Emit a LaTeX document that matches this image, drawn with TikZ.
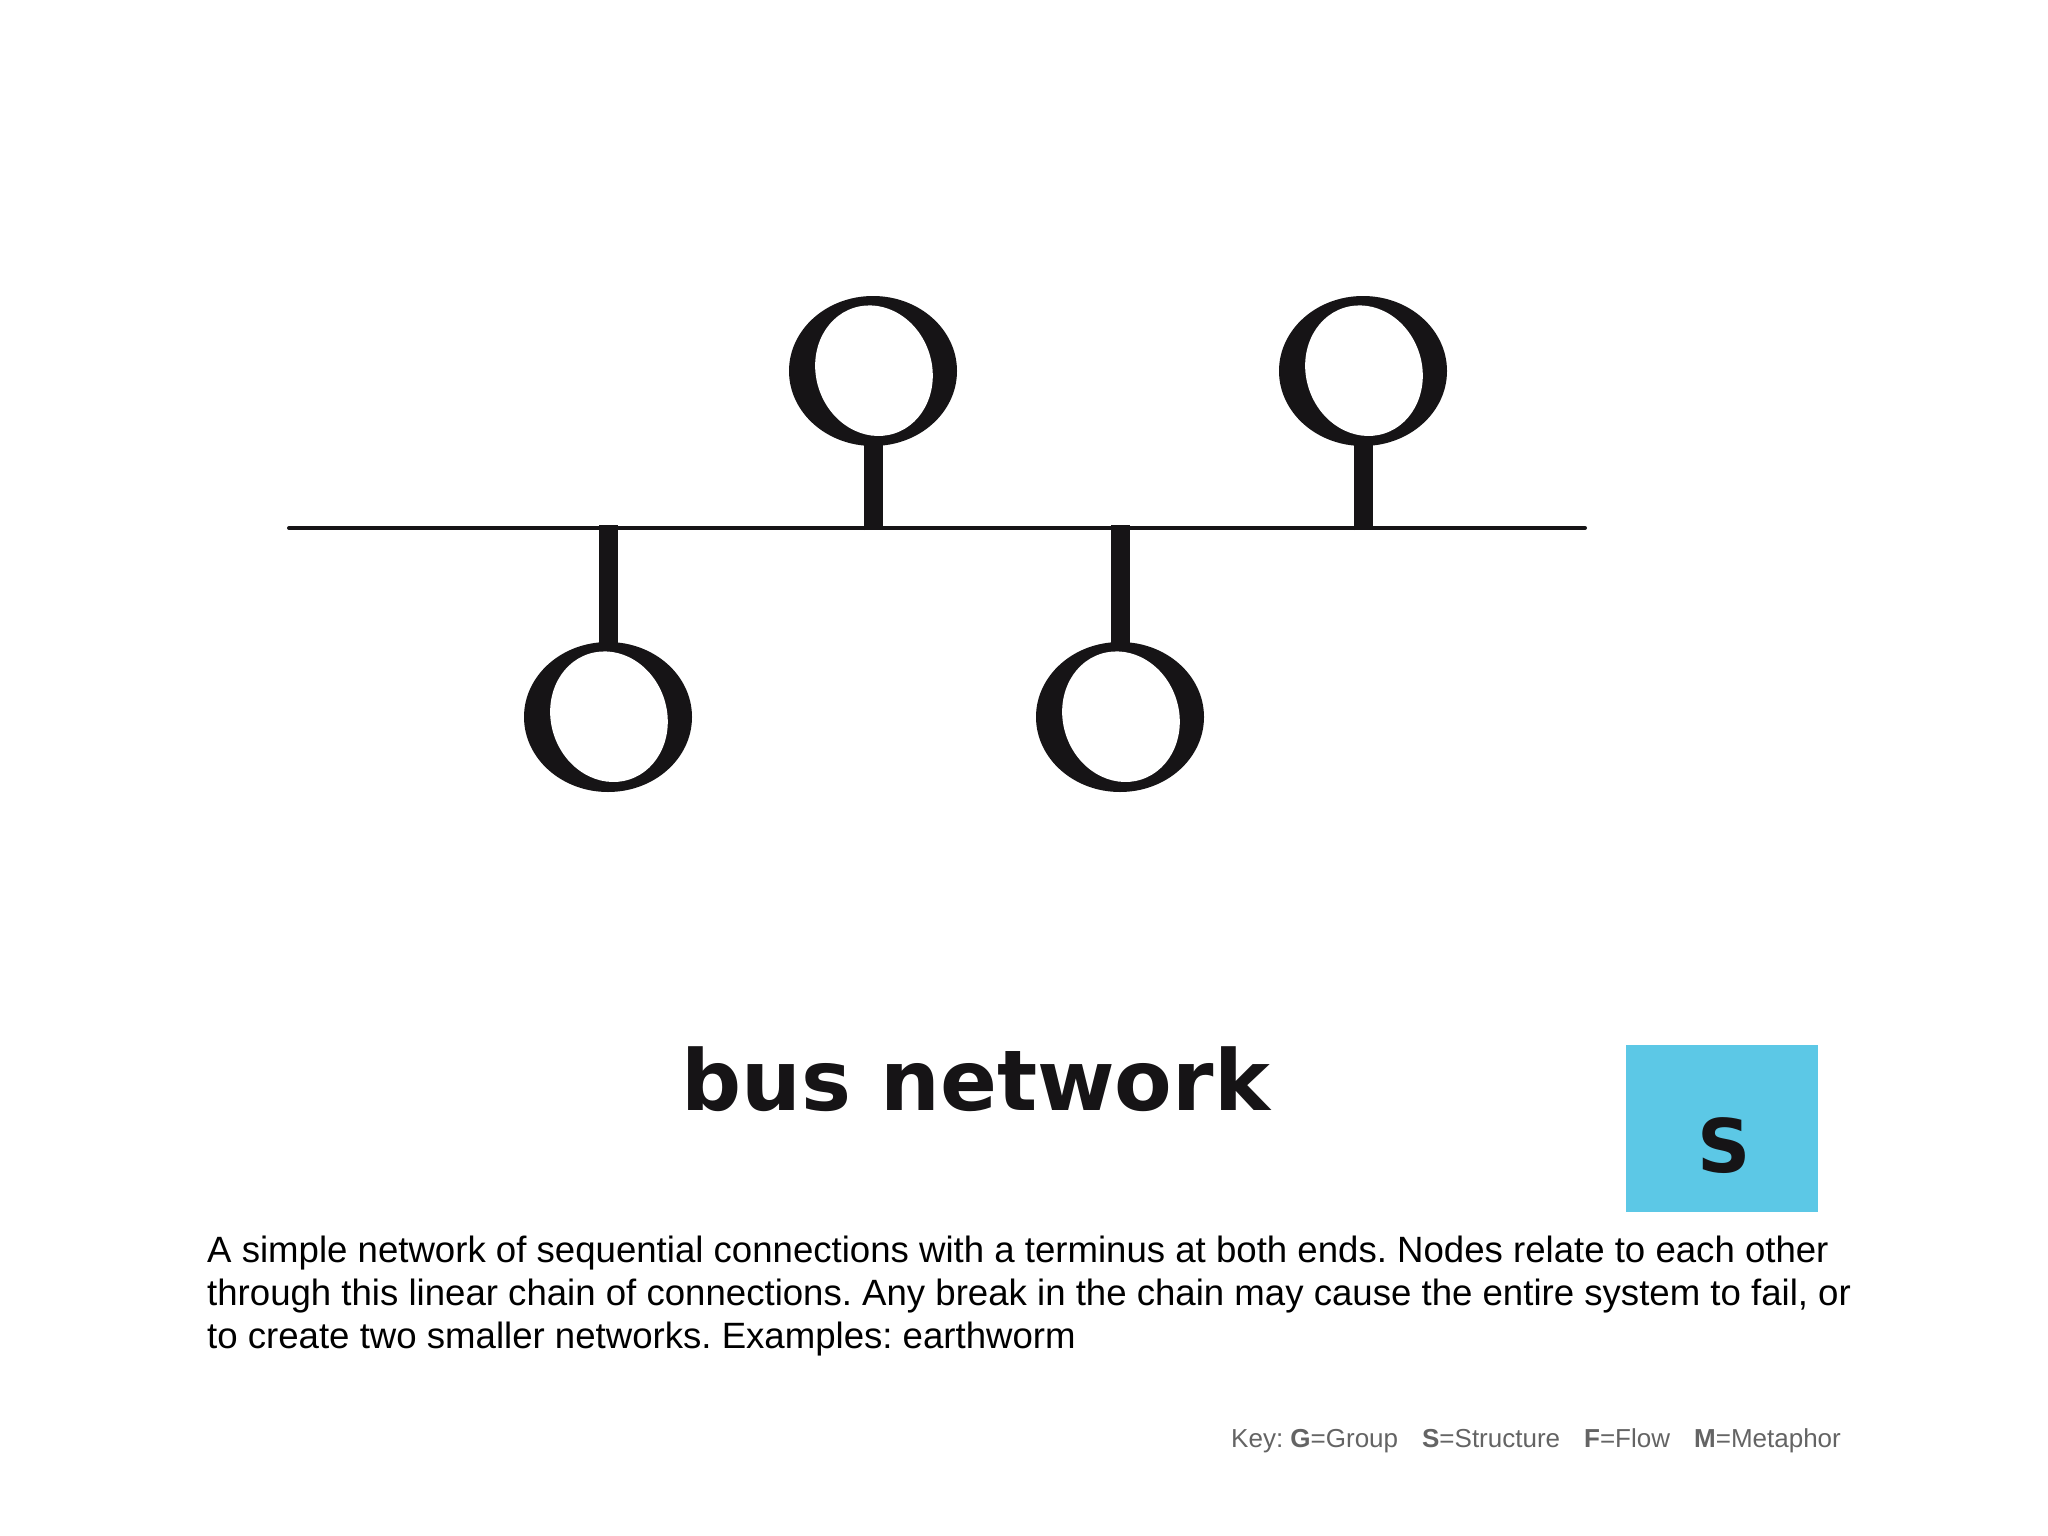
\documentclass[tikz,border=0pt]{standalone}
\usepackage{fontspec}
\setmainfont{Liberation Sans}
\newfontfamily\headfont{DejaVu Sans}
\usetikzlibrary{calc}

\definecolor{inkblack}{RGB}{22,20,22}
\definecolor{keyblue}{RGB}{92,200,230}
\definecolor{keygray}{RGB}{100,100,100}

\begin{document}
\frenchspacing
\begin{tikzpicture}[x=1pt, y=-1pt,
  bus/.style={inkblack, line width=4pt, line cap=round},
  stem/.style={inkblack, line width=19pt},
  body/.style={anchor=base west, inner sep=0, text=black, font=\fontsize{36.6}{43}\selectfont}]
\useasboundingbox[fill=white] (0,0) rectangle (2048,1536);

\coordinate (busW) at (289,528);
\coordinate (busE) at (1585,528);
\draw[bus] (busW) -- (busE);

% stations hanging below / standing above the bus
\foreach \n/\x/\y/\r/\t in {1/608/717/644/525, 2/873/371/444/530, 3/1120/717/644/525, 4/1363/371/444/530} {
 \coordinate (st\n) at (\x,\y);
 \coordinate (rim\n) at (\x,\r);
 \coordinate (tap\n) at (\x,\t);
 \draw[stem] (tap\n) -- (rim\n);
 \fill[inkblack] (st\n) ellipse (84 and 75);
 \fill[white, rotate around={18:(st\n)}] ($(st\n)+(1,0)$) ellipse (58 and 66);
}

\node[anchor=base west, inner sep=0, text=inkblack, font=\headfont\bfseries\fontsize{84}{84}\selectfont] (title) at (681,1110) {bus network};

\node[fill=keyblue, minimum width=192pt, minimum height=167pt, anchor=north west, inner sep=0] (sbox) at (1626,1045) {};
\node[anchor=base, inner sep=0, text=inkblack, font=\headfont\bfseries\fontsize{74}{74}\selectfont] (sletter) at (1724,1172) {S};

\node[body] (desc1) at (207,1262) {A simple network of sequential connections with a terminus at both ends. Nodes relate to each other};
\node[body] (desc2) at (207,1305) {through this linear chain of connections. Any break in the chain may cause the entire system to fail, or};
\node[body] (desc3) at (207,1348) {to create two smaller networks. Examples: earthworm};

\node[anchor=base west, inner sep=0, text=keygray, font=\fontsize{26}{30}\selectfont] (key) at (1231,1447) {Key: \textbf{G}=Group\hspace{24pt}\textbf{S}=Structure\hspace{24pt}\textbf{F}=Flow\hspace{24pt}\textbf{M}=Metaphor};
\end{tikzpicture}
\end{document}
